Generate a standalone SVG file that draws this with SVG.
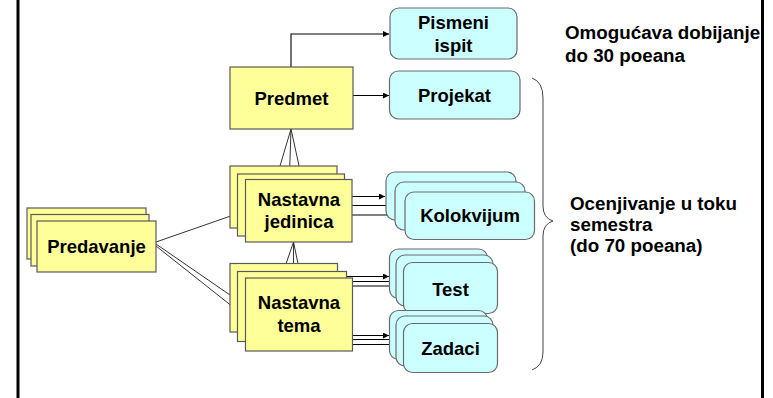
<svg xmlns="http://www.w3.org/2000/svg" width="773" height="398" viewBox="0 0 773 398">
<style>
.y{fill:#FFFF99;stroke:#5a5a5a;stroke-width:1.2}
.c{fill:#CCFFFF;stroke:#6a6a6a;stroke-width:1.2}
.t{font-family:"Liberation Sans",Arial,sans-serif;font-weight:bold;font-size:18.5px;fill:#000;text-anchor:middle}
.n{font-family:"Liberation Sans",Arial,sans-serif;font-weight:bold;font-size:18.8px;fill:#000}
.l{fill:none;stroke:#333;stroke-width:1}
.a{fill:none;stroke:#000;stroke-width:1.1;marker-end:url(#ah)}
</style>
<defs>
<marker id="ah" viewBox="0 0 10 10" refX="10" refY="5" markerWidth="7" markerHeight="6" markerUnits="userSpaceOnUse" orient="auto">
<path d="M0,0 L10,5 L0,10 z" fill="#000"/>
</marker>
</defs>
<rect width="773" height="398" fill="#fff"/>
<line x1="18" y1="0" x2="18" y2="398" stroke="#000" stroke-width="3"/>
<line x1="762.5" y1="0" x2="762.5" y2="398" stroke="#000" stroke-width="3"/>

<g id="connectors">
<polyline class="a" points="291,67 291,34 389,34"/>
<line class="a" x1="353" y1="95.5" x2="389" y2="95.5"/>
<line class="l" x1="291" y1="129" x2="280" y2="166"/>
<line class="l" x1="291" y1="129" x2="289.5" y2="174"/>
<line class="l" x1="291" y1="129" x2="302" y2="179.5"/>
<line class="l" x1="293.5" y1="242" x2="286" y2="264"/>
<line class="l" x1="293.5" y1="242" x2="293.5" y2="272"/>
<line class="l" x1="293.5" y1="242" x2="301" y2="278"/>
<line class="l" x1="156" y1="242" x2="245" y2="211"/>
<line class="l" x1="156" y1="244" x2="238" y2="300.5"/>
<line class="l" x1="156" y1="246" x2="245" y2="316.5"/>
<line class="a" x1="352" y1="196.5" x2="385" y2="196.5"/>
<line class="a" x1="352" y1="205.5" x2="394" y2="205.5"/>
<line class="a" x1="352" y1="215" x2="404" y2="215"/>
<line class="a" x1="347" y1="276.5" x2="389" y2="276.5"/>
<line class="a" x1="353" y1="281.5" x2="396" y2="281.5"/>
<line class="a" x1="353" y1="286" x2="403" y2="286"/>
<line class="a" x1="353" y1="335.5" x2="389" y2="335.5"/>
<line class="a" x1="353" y1="339.5" x2="396" y2="339.5"/>
<line class="a" x1="353" y1="344.5" x2="403" y2="344.5"/>
</g>

<g id="pismeni-ispit">
<rect class="c" x="390" y="8" width="127" height="51" rx="9"/>
<text class="t" x="453.5" y="29">Pismeni</text>
<text class="t" x="453.5" y="52">ispit</text>
</g>
<g id="projekat">
<rect class="c" x="389.5" y="71" width="130.5" height="48" rx="9"/>
<text class="t" x="454.5" y="102">Projekat</text>
</g>
<g id="predmet">
<rect class="y" x="230" y="67" width="123" height="62"/>
<text class="t" x="291.5" y="104.5">Predmet</text>
</g>
<g id="nastavna-jedinica">
<rect class="y" x="230" y="166" width="107" height="62"/>
<rect class="y" x="237.5" y="174" width="107" height="62"/>
<rect class="y" x="245.5" y="179.5" width="106.5" height="62.5"/>
<text class="t" x="299" y="206">Nastavna</text>
<text class="t" x="299" y="228">jedinica</text>
</g>
<g id="nastavna-tema">
<rect class="y" x="230" y="263.5" width="107.5" height="68.5"/>
<rect class="y" x="237.5" y="271.5" width="109" height="70"/>
<rect class="y" x="245.5" y="278" width="107" height="73"/>
<text class="t" x="299" y="309">Nastavna</text>
<text class="t" x="299" y="332">tema</text>
</g>
<g id="predavanje">
<rect class="y" x="27" y="208" width="119" height="51"/>
<rect class="y" x="31" y="214.5" width="118" height="51.5"/>
<rect class="y" x="37" y="221" width="119" height="51"/>
<text class="t" x="96.5" y="253">Predavanje</text>
</g>
<g id="kolokvijum">
<rect class="c" x="386" y="172" width="130" height="48" rx="9"/>
<rect class="c" x="395" y="182" width="130" height="48" rx="9"/>
<rect class="c" x="405" y="192" width="129.5" height="47.5" rx="9"/>
<text class="t" x="470" y="222">Kolokvijum</text>
</g>
<g id="test">
<rect class="c" x="389.5" y="249" width="98" height="49.5" rx="9"/>
<rect class="c" x="396" y="255" width="97" height="51" rx="9"/>
<rect class="c" x="403.5" y="262.5" width="94" height="51" rx="9"/>
<text class="t" x="450.5" y="296">Test</text>
</g>
<g id="zadaci">
<rect class="c" x="389.5" y="310.5" width="98" height="49" rx="9"/>
<rect class="c" x="396" y="316" width="97" height="50" rx="9"/>
<rect class="c" x="403.5" y="323.5" width="94" height="49" rx="9"/>
<text class="t" x="450.5" y="355">Zadaci</text>
</g>
<g id="brace">
<path d="M532,78 Q543,82 543,98 L543,206 Q543,218 553,221 Q543,224 543,236 L543,352 Q543,366 532,370" fill="none" stroke="#444" stroke-width="1"/>
</g>
<g id="notes">
<text class="n" x="565" y="39">Omogućava dobijanje</text>
<text class="n" x="565" y="62">do 30 poeana</text>
<text class="n" x="570" y="210">Ocenjivanje u toku</text>
<text class="n" x="570" y="231">semestra</text>
<text class="n" x="570" y="252">(do 70 poeana)</text>
</g>
</svg>
